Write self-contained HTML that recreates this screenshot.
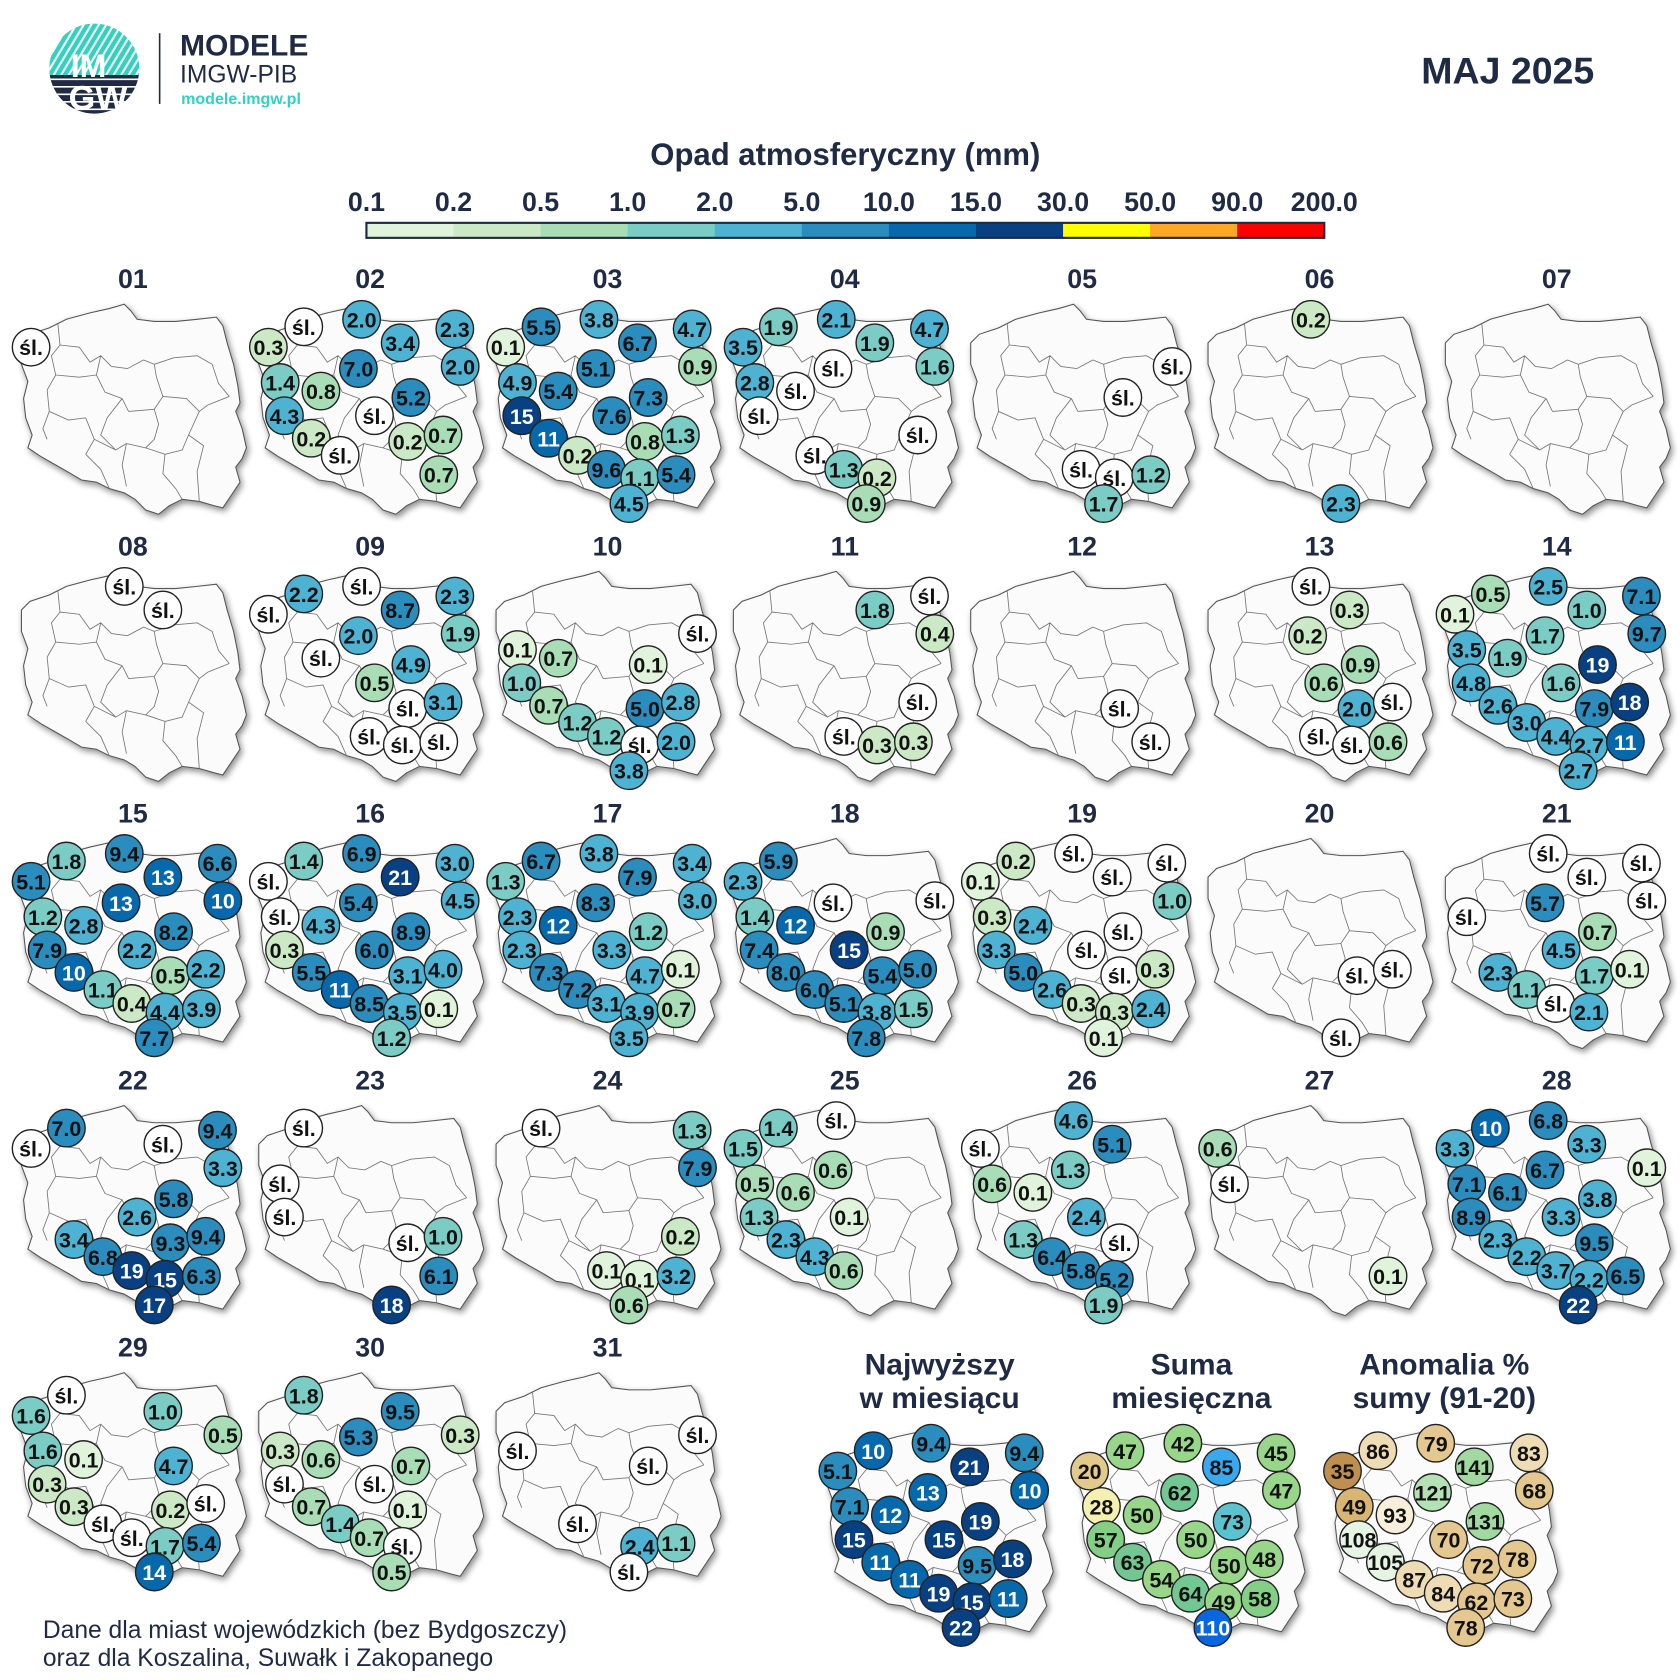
<!DOCTYPE html>
<html><head><meta charset="utf-8"><style>
html,body{margin:0;padding:0;background:#fff;width:1680px;height:1680px;overflow:hidden}
svg{display:block}
.t{font-family:"Liberation Sans",sans-serif;font-weight:bold;fill:#1f2a44}
.n{font-family:"Liberation Sans Narrow","Liberation Sans",sans-serif;font-weight:bold;text-anchor:middle;dominant-baseline:central}
</style></head><body>
<svg id="s" width="1680" height="1680" viewBox="0 0 1568 1568" xmlns="http://www.w3.org/2000/svg">
<defs>
<filter id="sh" x="-10%" y="-10%" width="120%" height="120%"><feGaussianBlur in="SourceAlpha" stdDeviation="3"/><feOffset dx="2" dy="3"/><feComponentTransfer><feFuncA type="linear" slope="0.45"/></feComponentTransfer><feMerge><feMergeNode/><feMergeNode in="SourceGraphic"/></feMerge></filter>
<clipPath id="lc"><circle cx="88" cy="64" r="42"/></clipPath>
<g id="pl">
<path filter="url(#sh)" fill="#fbfbfb" stroke="#555" stroke-width="1" d="M-104,60 L-96,52 L-78,46 L-62,38 L-40,32 L-22,28 L-8,24 L-2,30 L4,38 L20,40 L40,40 L60,38 L78,36 L84,44 L88,60 L94,80 L98,100 L100,116 L96,124 L102,140 L106,158 L102,168 L96,176 L100,190 L92,202 L84,214 L76,212 L62,208 L46,206 L34,212 L24,220 L12,216 L2,206 L-8,200 L-22,196 L-34,190 L-48,188 L-58,182 L-72,174 L-86,166 L-98,158 L-94,146 L-100,130 L-102,112 L-98,96 L-104,80 Z"/>
<path fill="none" stroke="#777" stroke-width="0.8" d="M-70,42 L-68,62 L-76,72 L-72,90 L-80,104 L-78,124 L-84,140 L-80,150 M-68,62 L-50,64 L-40,78 L-30,72 L-20,82 L-5,84 L10,76 L20,80 M-30,72 L-34,90 L-26,106 L-10,112 L-4,124 M-72,90 L-50,92 L-34,90 M-78,124 L-60,132 L-44,130 L-36,150 L-44,164 M-4,124 L20,122 L28,110 L22,92 L20,80 L38,74 L60,72 L74,80 L80,98 L90,110 M28,110 L50,112 L62,124 L70,118 L90,110 M-10,112 L-24,130 L-30,146 L-16,160 L-6,154 L12,158 L20,150 L24,136 L20,122 M-36,150 L-16,160 M-6,154 L-10,174 L-6,194 M12,158 L30,164 L46,160 L52,146 L62,124 M30,164 L28,182 L40,196 L46,206 M52,146 L66,156 L60,180 L62,208 M-44,164 L-30,178 L-22,196"/>
</g>
</defs>
<g id="root"></g>
</svg>
<script>
var S=document.getElementById('root');
var h='';
function T(x,y,txt,sz,anc,extra){h+='<text class="t" x="'+x+'" y="'+y+'" font-size="'+sz+'" text-anchor="'+(anc||'middle')+'" '+(extra||'')+'>'+txt+'</text>';}
h+='<g clip-path="url(#lc)"><rect x="40" y="20" width="100" height="50" fill="#2fd3c0"/>';
for(var i=-60;i<120;i+=7){h+='<line x1="'+(40+i)+'" y1="70" x2="'+(40+i+30)+'" y2="20" stroke="#fff" stroke-width="2"/>';}
h+='<rect x="40" y="70" width="100" height="40" fill="#1f2a44"/>';
for(var j=74;j<110;j+=7){h+='<line x1="40" y1="'+j+'" x2="140" y2="'+j+'" stroke="#fff" stroke-width="1.5"/>';}
h+='</g><text x="66" y="72" font-family="Liberation Sans" font-weight="bold" font-size="30" fill="#fff">IM</text><text x="64" y="102" font-family="Liberation Sans" font-weight="bold" font-size="32" fill="#fff">GW</text>';
h+='<line x1="149" y1="31" x2="149" y2="97" stroke="#1f2a44" stroke-width="1.5"/>';
T(168,52,'MODELE',28,'start');
h+='<text x="168" y="77" font-family="Liberation Sans" font-size="23" fill="#1f2a44">IMGW-PIB</text>';
h+='<text x="169" y="97" font-family="Liberation Sans" font-weight="bold" font-size="15" fill="#2fd3c0">modele.imgw.pl</text>';
T(1488,78,'MAJ 2025',35,'end');
T(789,154,'Opad atmosferyczny (mm)',29);
var cb=['#e0f3db','#cce9c6','#a8ddb5','#7bccc4','#4eb3d3','#2b8cbe','#0868ac','#084081','#ffff00','#ffa726','#ff0000'];
var lbs=['0.1','0.2','0.5','1.0','2.0','5.0','10.0','15.0','30.0','50.0','90.0','200.0'];
var w=(1236-342)/11;
for(var i=0;i<11;i++){h+='<rect x="'+(342+w*i)+'" y="208" width="'+(w+0.5)+'" height="14" fill="'+cb[i]+'"/>';}
h+='<rect x="342" y="208" width="894" height="14" fill="none" stroke="#1f2a44" stroke-width="2"/>';
for(var i=0;i<12;i++){T(342+w*i,197,lbs[i],25);}
var C={Sz:[-95,64],Ko:[-62,45],Gd:[-8,38],Ol:[28,60],Su:[79,47],Bi:[84,82],To:[-11,84],Go:[-84,97],Po:[-46,105],ZG:[-80,128],Wa:[38,111],Lo:[4,128],Wr:[-55,149],Op:[-28,165],Ki:[35,152],Lu:[68,146],Ka:[-1,178],Kr:[30,186],Rz:[64,183],Za:[20,210]};
function col(v){if(v=='śl.')return ['#fff','#111'];var x=parseFloat(v);var th=[0.2,0.5,1,2,5,10,15,30,50,90,1e9];for(var i=0;i<11;i++){if(x<th[i])return [cb[i],i>=6&&i<8?'#fff':'#111'];}}
function map(cx,cy,d,lab,cf){
 h+='<use href="#pl" x="'+cx+'" y="'+cy+'"/>';
 if(lab)T(cx,cy+9,lab,25);
 for(var k in d){var p=C[k],v=d[k],c=cf?cf(v):col(v);
  h+='<circle cx="'+(cx+p[0])+'" cy="'+(cy+p[1])+'" r="17.5" fill="'+c[0]+'" stroke="#222" stroke-width="1.3"/>';
  h+='<text class="n" x="'+(cx+p[0])+'" y="'+(cy+p[1]+1)+'" font-size="'+(v.length>3?18:20)+'" fill="'+c[1]+'">'+v+'</text>';}
}
var s='śl.';
var D=[
{Sz:s},
{Sz:'0.3',Ko:s,Gd:'2.0',Ol:'3.4',Su:'2.3',Bi:'2.0',To:'7.0',Go:'1.4',Po:'0.8',ZG:'4.3',Wa:'5.2',Lo:s,Wr:'0.2',Op:s,Ki:'0.2',Lu:'0.7',Rz:'0.7'},
{Sz:'0.1',Ko:'5.5',Gd:'3.8',Ol:'6.7',Su:'4.7',Bi:'0.9',To:'5.1',Go:'4.9',Po:'5.4',ZG:'15',Wa:'7.3',Lo:'7.6',Wr:'11',Op:'0.2',Ki:'0.8',Lu:'1.3',Ka:'9.6',Kr:'1.1',Rz:'5.4',Za:'4.5'},
{Sz:'3.5',Ko:'1.9',Gd:'2.1',Ol:'1.9',Su:'4.7',Bi:'1.6',To:s,Go:'2.8',Po:s,ZG:s,Lu:s,Op:s,Ka:'1.3',Kr:'0.2',Za:'0.9'},
{Bi:s,Wa:s,Ka:s,Kr:s,Rz:'1.2',Za:'1.7'},
{Gd:'0.2',Za:'2.3'},
{},
{Gd:s,Ol:s},
{Ko:'2.2',Gd:s,Sz:s,Ol:'8.7',Su:'2.3',Bi:'1.9',To:'2.0',Po:s,Wa:'4.9',Lo:'0.5',Ki:s,Lu:'3.1',Ka:s,Kr:s,Rz:s},
{Bi:s,Go:'0.1',Po:'0.7',Wa:'0.1',ZG:'1.0',Wr:'0.7',Ki:'5.0',Lu:'2.8',Op:'1.2',Ka:'1.2',Kr:s,Rz:'2.0',Za:'3.8'},
{Ol:'1.8',Su:s,Bi:'0.4',Lu:s,Ka:s,Kr:'0.3',Rz:'0.3'},
{Ki:s,Rz:s},
{Gd:s,Ol:'0.3',To:'0.2',Wa:'0.9',Lo:'0.6',Ki:'2.0',Lu:s,Ka:s,Kr:s,Rz:'0.6'},
{Ko:'0.5',Gd:'2.5',Sz:'0.1',Ol:'1.0',Su:'7.1',Bi:'9.7',To:'1.7',Go:'3.5',Po:'1.9',Wa:'19',ZG:'4.8',Lo:'1.6',Wr:'2.6',Ki:'7.9',Lu:'18',Op:'3.0',Ka:'4.4',Kr:'2.7',Rz:'11',Za:'2.7'},
{Ko:'1.8',Gd:'9.4',Sz:'5.1',Ol:'13',Su:'6.6',Bi:'10',To:'13',Go:'1.2',Po:'2.8',Wa:'8.2',ZG:'7.9',Lo:'2.2',Wr:'10',Ki:'0.5',Lu:'2.2',Op:'1.1',Ka:'0.4',Kr:'4.4',Rz:'3.9',Za:'7.7'},
{Ko:'1.4',Gd:'6.9',Sz:s,Ol:'21',Su:'3.0',Bi:'4.5',To:'5.4',Go:s,Po:'4.3',Wa:'8.9',ZG:'0.3',Lo:'6.0',Wr:'5.5',Ki:'3.1',Lu:'4.0',Op:'11',Ka:'8.5',Kr:'3.5',Rz:'0.1',Za:'1.2'},
{Ko:'6.7',Gd:'3.8',Sz:'1.3',Ol:'7.9',Su:'3.4',Bi:'3.0',To:'8.3',Go:'2.3',Po:'12',Wa:'1.2',ZG:'2.3',Lo:'3.3',Wr:'7.3',Ki:'4.7',Lu:'0.1',Op:'7.2',Ka:'3.1',Kr:'3.9',Rz:'0.7',Za:'3.5'},
{Ko:'5.9',Sz:'2.3',To:s,Bi:s,Go:'1.4',Po:'12',Wa:'0.9',ZG:'7.4',Lo:'15',Wr:'8.0',Ki:'5.4',Lu:'5.0',Op:'6.0',Ka:'5.1',Kr:'3.8',Rz:'1.5',Za:'7.8'},
{Ko:'0.2',Gd:s,Sz:'0.1',Ol:s,Su:s,Bi:'1.0',Go:'0.3',Po:'2.4',Wa:s,ZG:'3.3',Lo:s,Wr:'5.0',Ki:s,Lu:'0.3',Op:'2.6',Ka:'0.3',Kr:'0.3',Rz:'2.4',Za:'0.1'},
{Ki:s,Lu:s,Za:s},
{Gd:s,Ol:s,Su:s,Bi:s,To:'5.7',Go:s,Wa:'0.7',Lo:'4.5',Wr:'2.3',Ki:'1.7',Lu:'0.1',Op:'1.1',Ka:s,Kr:'2.1'},
{Ko:'7.0',Sz:s,Ol:s,Su:'9.4',Bi:'3.3',Wa:'5.8',Lo:'2.6',Wr:'3.4',Ki:'9.3',Lu:'9.4',Op:'6.8',Ka:'19',Kr:'15',Rz:'6.3',Za:'17'},
{Ko:s,Go:s,ZG:s,Ki:s,Lu:'1.0',Rz:'6.1',Za:'18'},
{Ko:s,Su:'1.3',Bi:'7.9',Lu:'0.2',Ka:'0.1',Kr:'0.1',Rz:'3.2',Za:'0.6'},
{Ko:'1.4',Gd:s,Sz:'1.5',To:'0.6',Go:'0.5',Po:'0.6',Lo:'0.1',ZG:'1.3',Wr:'2.3',Op:'4.3',Ka:'0.6'},
{Gd:'4.6',Ol:'5.1',Sz:s,To:'1.3',Go:'0.6',Po:'0.1',Lo:'2.4',Wr:'1.3',Ki:s,Op:'6.4',Ka:'5.8',Kr:'5.2',Za:'1.9'},
{Sz:'0.6',Go:s,Rz:'0.1'},
{Ko:'10',Gd:'6.8',Sz:'3.3',Ol:'3.3',Bi:'0.1',To:'6.7',Go:'7.1',Po:'6.1',Wa:'3.8',ZG:'8.9',Lo:'3.3',Wr:'2.3',Ki:'9.5',Op:'2.2',Ka:'3.7',Kr:'2.2',Rz:'6.5',Za:'22'},
{Ko:s,Sz:'1.6',Ol:'1.0',Bi:'0.5',Go:'1.6',Po:'0.1',Wa:'4.7',ZG:'0.3',Wr:'0.3',Op:s,Ka:s,Ki:'0.2',Lu:s,Kr:'1.7',Rz:'5.4',Za:'14'},
{Ko:'1.8',Ol:'9.5',Bi:'0.3',To:'5.3',Go:'0.3',Po:'0.6',Wa:'0.7',ZG:s,Lo:s,Wr:'0.7',Ki:'0.1',Op:'1.4',Ka:'0.7',Kr:s,Za:'0.5'},
{Bi:s,Go:s,Wa:s,Op:s,Kr:'2.4',Rz:'1.1',Za:s}
];
for(var i=0;i<31;i++){var c=i%7,r=Math.floor(i/7);map(124+c*221.5,260+r*249.3,D[i],(i<9?'0':'')+(i+1));}
var vy=1309;
T(877,1283,'Najwyższy',28);T(877,1314,'w miesiącu',28);
T(1112,1283,'Suma',28);T(1112,1314,'miesięczna',28);
T(1348,1283,'Anomalia %',28);T(1348,1314,'sumy (91-20)',28);
map(877,vy,{Sz:'5.1',Ko:'10',Gd:'9.4',Ol:'21',Su:'9.4',Bi:'10',To:'13',Go:'7.1',Po:'12',ZG:'15',Wa:'19',Lo:'15',Wr:'11',Op:'11',Ki:'9.5',Lu:'18',Ka:'19',Kr:'15',Rz:'11',Za:'22'},null);
function sc(v){var x=+v;if(x<25)return['#e2c98c','#111'];if(x<40)return['#f4f0b0','#111'];if(x<55)return['#98d68a','#111'];if(x<62)return['#84cf86','#111'];if(x<70)return['#72c792','#111'];if(x<80)return['#5bc3cf','#111'];if(x<100)return['#3aa8ee','#111'];return['#0a66e0','#fff'];}
map(1112,vy,{Sz:'20',Ko:'47',Gd:'42',Ol:'85',Su:'45',Bi:'47',To:'62',Go:'28',Po:'50',ZG:'57',Wa:'73',Lo:'50',Wr:'63',Op:'54',Ki:'50',Lu:'48',Ka:'64',Kr:'49',Rz:'58',Za:'110'},null,sc);
function ac(v){var x=+v;if(x<40)return['#bf8f50','#111'];if(x<60)return['#d9b573','#111'];if(x<81)return['#e5c890','#111'];if(x<90)return['#eedcb5','#111'];if(x<100)return['#f7eedc','#111'];if(x<115)return['#e6f5e3','#111'];if(x<125)return['#b5e2b5','#111'];return['#a2d9a0','#111'];}
map(1348,vy,{Sz:'35',Ko:'86',Gd:'79',Ol:'141',Su:'83',Bi:'68',To:'121',Go:'49',Po:'93',ZG:'108',Wa:'131',Lo:'70',Wr:'105',Op:'87',Ki:'72',Lu:'78',Ka:'84',Kr:'62',Rz:'73',Za:'78'},null,ac);
h+='<text x="40" y="1529" font-family="Liberation Sans" font-size="23" fill="#1f2a44">Dane dla miast wojewódzkich (bez Bydgoszczy)</text>';
h+='<text x="40" y="1555" font-family="Liberation Sans" font-size="23" fill="#1f2a44">oraz dla Koszalina, Suwałk i Zakopanego</text>';
S.innerHTML=h;
</script>
</body></html>
